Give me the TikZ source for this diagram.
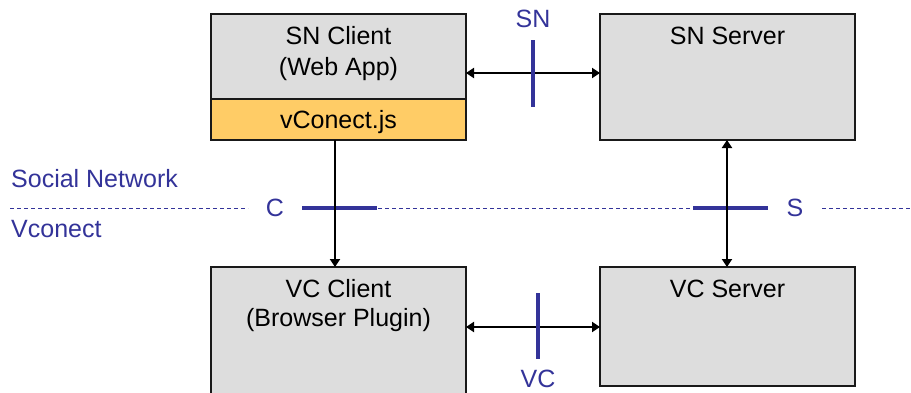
\documentclass[tikz,border=0pt]{standalone}
\usepackage{fontspec}
\setmainfont{Liberation Sans}
\usetikzlibrary{arrows.meta}
\definecolor{netblue}{HTML}{333399}
\definecolor{boxgrey}{HTML}{DDDDDD}
\definecolor{jsorange}{HTML}{FFCC66}
\begin{document}
\begin{tikzpicture}[x=1pt,y=-1pt,
  box/.style={draw=black!90, line width=1.8pt, inner sep=0pt, outer sep=0pt, anchor=north west, fill=boxgrey},
  jsbox/.style={box, fill=jsorange},
  lbl/.style={font=\fontsize{25}{30}\selectfont, anchor=base, inner sep=0pt},
  bluelbl/.style={lbl, text=netblue},
  link/.style={line width=2.5pt, black, {Triangle[length=8pt,width=10pt]}-{Triangle[length=8pt,width=10pt]}},
  downlink/.style={line width=2.5pt, black, -{Triangle[length=8pt,width=10pt]}},
  tick/.style={line width=4pt, netblue},
  border/.style={line width=1pt, netblue, dash pattern=on 4pt off 3pt}
]
\useasboundingbox (0,0) rectangle (911,392);
\clip (0,0) rectangle (911,392);

% boxes
\node[box, minimum width=255pt, minimum height=85pt] (snc) at (211,14) {};
\node[jsbox, minimum width=255pt, minimum height=41pt] (js) at (211,99) {};
\node[box, minimum width=255pt, minimum height=126pt] (sns) at (600,14) {};
\node[box, minimum width=255pt, minimum height=135pt] (vcc) at (211,267) {};
\node[box, minimum width=255pt, minimum height=119pt] (vcs) at (600,267) {};

% box texts
\node[lbl] (snc1) at (338.5,44) {SN Client};
\node[lbl] (snc2) at (338.5,75) {(Web App)};
\node[lbl] (jst) at (338.5,128) {vConect.js};
\node[lbl] (snst) at (727.5,44) {SN Server};
\node[lbl] (vcc1) at (338.5,297) {VC Client};
\node[lbl] (vcc2) at (338.5,326) {(Browser Plugin)};
\node[lbl] (vcst) at (727.5,297) {VC Server};

% domain labels
\node[bluelbl, anchor=base west] (socnet) at (11,187) {Social Network};
\node[bluelbl, anchor=base west] (vconect) at (11,237) {Vconect};
\node[bluelbl] (lsn) at (533,27) {SN};
\node[bluelbl] (lvc) at (538,387) {VC};
\node[bluelbl, anchor=center] (lc) at (275,208) {C};
\node[bluelbl, anchor=center] (ls) at (795,208) {S};

% dashed border
\coordinate (d0) at (10,208);
\coordinate (d1) at (248,208);
\coordinate (d2) at (378,208);
\coordinate (d3) at (693,208);
\coordinate (d4) at (822,208);
\coordinate (d5) at (911,208);
\draw[border] (d0) -- (d1);
\draw[border] (d2) -- (d3);
\draw[border] (d4) -- (d5);

% C and S ticks (under arrows)
\coordinate (c0) at (302,208);
\coordinate (c1) at (377,208);
\coordinate (s0) at (693,208);
\coordinate (s1) at (768,208);
\draw[tick] (c0) -- (c1);
\draw[tick] (s0) -- (s1);

% connectors
\draw[link] (snc.east |- 0,73) -- (sns.west |- 0,73);
\draw[link] (vcc.east |- 0,327) -- (vcs.west |- 0,327);
\draw[downlink] (js.south -| 335,0) -- (vcc.north -| 335,0);
\draw[link] (sns.south -| 727,0) -- (vcs.north -| 727,0);

% SN and VC ticks (over arrows)
\coordinate (sn0) at (533,40);
\coordinate (sn1) at (533,107);
\coordinate (vc0) at (538,293);
\coordinate (vc1) at (538,359);
\draw[tick] (sn0) -- (sn1);
\draw[tick] (vc0) -- (vc1);
\end{tikzpicture}
\end{document}
